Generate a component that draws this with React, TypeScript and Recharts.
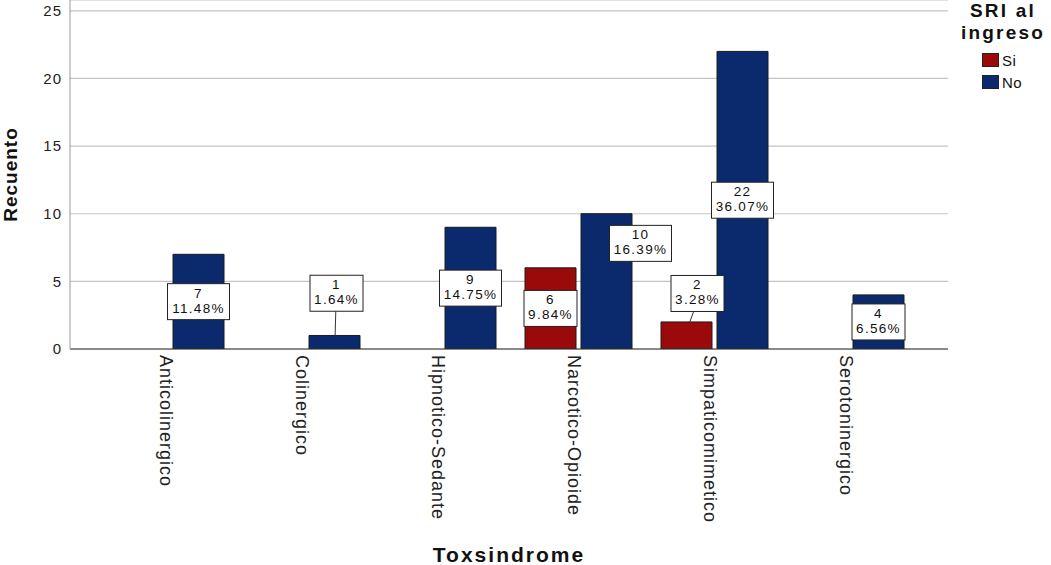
import React from 'react';
import { BarChart, Bar, XAxis, YAxis, CartesianGrid, LabelList } from 'recharts';

// Toxsindrome categories and counts by "SRI al ingreso"
const categories = [
  'Anticolinergico',
  'Colinergico',
  'Hipnotico-Sedante',
  'Narcotico-Opioide',
  'Simpaticomimetico',
  'Serotoninergico',
];
const siCounts = [0, 0, 0, 6, 2, 0];
const noCounts = [7, 1, 9, 10, 22, 4];
const yTicks = [0, 5, 10, 15, 20, 25];

const SI_COLOR = '#9b0a0a';
const NO_COLOR = '#0b2a6e';
const FONT = '"Liberation Sans", Arial, sans-serif';

const total = [...siCounts, ...noCounts].reduce((a, b) => a + b, 0);

const data = categories.map((name, i) => ({ name, si: siCounts[i], no: noCounts[i] }));

// SPSS moved a few labels away from the bar centre
const placement: Record<string, { dx: number; dy: number; leader?: boolean }> = {
  'no-1': { dx: 2, dy: -49, leader: true },
  'no-3': { dx: 34, dy: -38 },
  'si-4': { dx: 11, dy: -42, leader: true },
};

const makeLabel = (key: string, values: number[]) => (props: any) => {
  const vb = props.viewBox || {};
  const x = props.x ?? vb.x;
  const y = props.y ?? vb.y;
  const width = props.width ?? vb.width;
  const height = props.height ?? vb.height;
  const v = Number(props.value);
  if (!v) return null;
  // zero bars may be skipped, so find the category from the value
  const index = values[props.index] === v ? props.index : values.indexOf(v);
  const cx = x + width / 2;
  const cy = y + height / 2;
  const p = placement[`${key}-${index}`] || { dx: 0, dy: 0 };
  const bx = cx + p.dx;
  const by = cy + p.dy;
  const pct = `${((v / total) * 100).toFixed(2)}%`;
  const w = pct.length * 9 + 8;
  const h = 36;
  const top = by - h / 2;
  return (
    <g>
      {p.leader && (
        <line
          x1={bx - p.dx * 0.35}
          y1={top + h}
          x2={cx + p.dx * 0.3}
          y2={y}
          stroke="#333"
          strokeWidth={1}
        />
      )}
      <rect x={bx - w / 2} y={top} width={w} height={h} fill="#fff" stroke="#222" strokeWidth={1} />
      <text x={bx} y={top + 14} textAnchor="middle" fontSize={13.5} fill="#111" fontFamily={FONT} letterSpacing={1.3}>
        {v}
      </text>
      <text x={bx} y={top + 29} textAnchor="middle" fontSize={13.5} fill="#111" fontFamily={FONT} letterSpacing={1.3}>
        {pct}
      </text>
    </g>
  );
};

const XTick = (props: any) => {
  const { x, y, payload } = props;
  return (
    <text
      transform={`translate(${x},${y - 2}) rotate(90)`}
      x={0}
      y={0}
      dy={10}
      textAnchor="start"
      fontSize={18}
      letterSpacing={1}
      fill="#222"
      fontFamily={FONT}
    >
      {payload.value}
    </text>
  );
};

const Legend = () => (
  <div
    style={{
      position: 'absolute',
      left: 955,
      top: 0,
      width: 96,
      fontFamily: FONT,
      color: '#111',
    }}
  >
    <div style={{ fontWeight: 'bold', fontSize: 19, letterSpacing: 2.2, lineHeight: '22px', textAlign: 'center' }}>
      SRI al
      <br />
      ingreso
    </div>
    {[
      { label: 'Si', color: SI_COLOR },
      { label: 'No', color: NO_COLOR },
    ].map((item, i) => (
      <div
        key={item.label}
        style={{ display: 'flex', alignItems: 'center', marginTop: i === 0 ? 7 : 4, marginLeft: 27, height: 18 }}
      >
        <span
          style={{
            display: 'inline-block',
            width: 17,
            height: 14,
            background: item.color,
            border: '1px solid #222',
            boxSizing: 'border-box',
          }}
        />
        <span style={{ fontSize: 15, marginLeft: 3, letterSpacing: 0.5 }}>{item.label}</span>
      </div>
    ))}
  </div>
);

const App: React.FC = () => {
  return (
    <div style={{ position: 'absolute', left: 0, top: 0, width: 1051, height: 565, background: '#fff' }}>
      <BarChart
        width={1051}
        height={565}
        data={data}
        margin={{ top: 0, right: 103, left: 0, bottom: 0 }}
        barGap={5}
        barSize={51}
      >
        <CartesianGrid vertical={false} stroke="#c4c4c4" strokeWidth={1.2} />
        <XAxis
          dataKey="name"
          interval={0}
          height={216}
          padding={{ left: 32, right: 30 }}
          tickLine={false}
          axisLine={{ stroke: '#333' }}
          tick={<XTick />}
          label={{
            content: (p: any) => {
              const vb = p.viewBox || {};
              return (
                <text
                  x={vb.x + vb.width / 2}
                  y={562}
                  textAnchor="middle"
                  fontSize={21}
                  fontWeight="bold"
                  letterSpacing={2}
                  fill="#111"
                  fontFamily={FONT}
                >
                  Toxsindrome
                </text>
              );
            },
          }}
        />
        <YAxis
          width={70}
          domain={[0, 25.8]}
          ticks={yTicks}
          allowDataOverflow
          tickLine={false}
          axisLine={{ stroke: '#999' }}
          tick={{ fontSize: 15, fill: '#222', fontFamily: FONT, letterSpacing: 1 }}
          label={{
            content: (p: any) => {
              const vb = p.viewBox || {};
              const cy = vb.y + vb.height / 2;
              return (
                <text
                  transform={`translate(17,${cy}) rotate(-90)`}
                  x={0}
                  y={0}
                  textAnchor="middle"
                  fontSize={19}
                  fontWeight="bold"
                  letterSpacing={1}
                  fill="#111"
                  fontFamily={FONT}
                >
                  Recuento
                </text>
              );
            },
          }}
        />
        <Bar dataKey="si" fill={SI_COLOR} stroke="#1a1a1a" strokeWidth={1} isAnimationActive={false}>
          <LabelList dataKey="si" content={makeLabel('si', siCounts)} />
        </Bar>
        <Bar dataKey="no" fill={NO_COLOR} stroke="#1a1a1a" strokeWidth={1} isAnimationActive={false}>
          <LabelList dataKey="no" content={makeLabel('no', noCounts)} />
        </Bar>
      </BarChart>
      <Legend />
    </div>
  );
};

export default App;
